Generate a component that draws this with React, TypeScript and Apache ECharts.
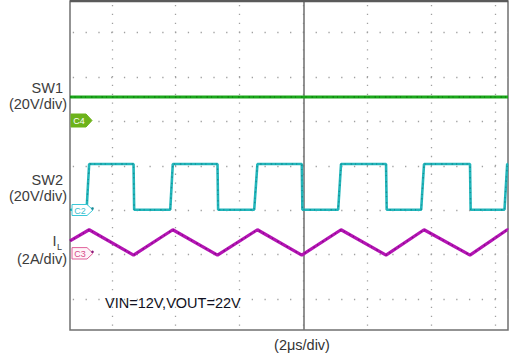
import React, { useEffect, useRef } from "react";
import * as echarts from "echarts";

// time in µs (2 µs/div), amplitude in screen divisions
const timeTicks = [0, 2, 4, 6, 8, 10, 12];
const divTicks = [0, 1, 2, 3, 4, 5, 6];

const sw1Time = [-1.31, 12.41];
const sw1Level = [4.55, 4.55];

const sw2Time = [-1.31, -0.79, -0.71, 0.68, 0.7, 1.83, 1.91, 3.31, 3.33, 4.46, 4.56, 5.95, 5.97, 7.09, 7.18, 8.59, 8.61, 9.69, 9.78, 11.22, 11.24, 12.3, 12.385, 12.41];
const sw2Level = [2.01, 2.01, 3.04, 3.04, 2.01, 2.01, 3.04, 3.04, 2.01, 2.01, 3.04, 3.04, 2.01, 2.01, 3.04, 3.04, 2.01, 2.01, 3.04, 3.04, 2.01, 2.01, 3.04, 3.04];

const ilTime = [-1.31, -0.71, 0.68, 1.91, 3.31, 4.56, 5.95, 7.18, 8.59, 9.78, 11.22, 12.385, 12.41];
const ilLevel = [1.31, 1.56, 0.99, 1.56, 0.99, 1.56, 0.99, 1.56, 0.99, 1.56, 0.99, 1.56, 1.55];

const zip = (xs: number[], ys: number[]) => xs.map((x, i) => [x, ys[i]]);

const FONT = '"Liberation Sans", Arial, sans-serif';
const LABEL = "#3c3c3c";

function txt(text: string, x: number, y: number, align: string, size = 14, fill = LABEL) {
  return {
    type: "text",
    silent: true,
    style: {
      text,
      x,
      y,
      fill,
      font: `${size}px ${FONT}`,
      lineHeight: size,
      align,
      verticalAlign: "middle",
      textAlign: align,
      textVerticalAlign: "middle",
    },
    z: 100,
  };
}

function tag(x: number, y: number, h: number, label: string, fill: string, stroke: string, textFill: string, dot?: string) {
  const els: any[] = [
    {
      type: "polygon",
      silent: true,
      shape: { points: [[x, y - h], [x + 15, y - h], [x + 21, y], [x + 15, y + h], [x, y + h]] },
      style: { fill, stroke, lineWidth: 1 },
      z: 100,
    },
    {
      type: "text",
      silent: true,
      style: {
        text: label,
        x: x + 8,
        y: y + 0.5,
        fill: textFill,
        font: `9px ${FONT}`,
        lineHeight: 9,
        align: "center",
        verticalAlign: "middle",
        textAlign: "center",
        textVerticalAlign: "middle",
      },
      z: 101,
    },
  ];
  if (dot) {
    els.push({ type: "circle", silent: true, shape: { cx: x + 20.5, cy: y - 1.5, r: 1.3 }, style: { fill: dot }, z: 101 });
  }
  return els;
}

function trace(name: string, xs: number[], ys: number[], color: string, speck: string, width: number, z: number) {
  return [
    {
      name,
      type: "line",
      data: zip(xs, ys),
      symbol: "none",
      lineStyle: { color, width },
      z,
    },
    {
      name: name + " noise",
      type: "line",
      data: zip(xs, ys),
      symbol: "none",
      lineStyle: { color: speck, width: 1.4, type: [1.5, 3, 1, 5], opacity: 0.7 },
      z: z + 0.5,
      silent: true,
    },
  ];
}

export default function App() {
  const ref = useRef<HTMLDivElement>(null);
  useEffect(() => {
    if (!ref.current) return;
    const chart = echarts.init(ref.current, null, { renderer: "svg" });
    const [sw1, sw1n] = trace("SW1", sw1Time, sw1Level, "#1aa81a", "#0b6e0b", 3.2, 5);
    const [sw2, sw2n] = trace("SW2", sw2Time, sw2Level, "#22b6bb", "#137f86", 2.6, 6);
    const [il, iln] = trace("IL", ilTime, ilLevel, "#b414b4", "#6e0a6e", 3.2, 7);
    (sw1 as any).markLine = {
      silent: true,
      symbol: ["none", "none"],
      label: { show: false },
      lineStyle: { color: "#767676", width: 1.6, type: "solid" },
      data: [{ xAxis: 6 }],
      z: 1,
    };
    chart.setOption({
      animation: false,
      backgroundColor: "#ffffff",
      grid: {
        left: 70,
        right: 2,
        top: 1,
        bottom: 31,
        show: true,
        borderColor: "#707070",
        borderWidth: 1.5,
        backgroundColor: "#ffffff",
      },
      xAxis: {
        type: "value",
        min: -1.31,
        max: 12.41,
        axisLine: { show: false },
        axisLabel: { show: false },
        axisTick: { show: false, customValues: timeTicks },
        splitLine: {
          show: true,
          lineStyle: { color: "#a0a0a0", width: 1.3, type: [1.3, 7.58], dashOffset: 4.57 },
        },
      },
      yAxis: {
        type: "value",
        min: -0.698,
        max: 6.712,
        axisLine: { show: false },
        axisLabel: { show: false },
        axisTick: { show: false, customValues: divTicks },
        splitLine: {
          show: true,
          lineStyle: { color: "#a0a0a0", width: 1.3, type: [1.3, 11.48], dashOffset: 10.07 },
        },
      },
      series: [sw1, sw1n, sw2, sw2n, il, iln],
      graphic: [
        {
          type: "line",
          silent: true,
          shape: { x1: 70, y1: 1, x2: 508, y2: 1 },
          style: { stroke: "#5a5a5a", lineWidth: 2.5 },
          z: 90,
        },
        txt("SW1", 63, 88, "right", 14.5),
        txt("(20V/div)", 67, 104, "right", 14.5),
        txt("SW2", 63, 180, "right", 14.5),
        txt("(20V/div)", 67, 196, "right", 14.5),
        txt("I", 56.5, 241, "right", 14.5),
        txt("L", 57, 246.5, "left", 9),
        txt("(2A/div)", 67, 258.5, "right", 14.5),
        txt("VIN=12V,VOUT=22V", 105, 303, "left", 14.5, "#111122"),
        txt("(2μs/div)", 302, 345, "center", 14.5, "#333333"),
        ...tag(71, 120.5, 6.5, "C4", "#6db31b", "#6db31b", "#ffffff"),
        ...tag(72, 210, 5.5, "C2", "#ffffff", "#3cc8d8", "#3cc0d0", "#1a8a96"),
        ...tag(72, 253.3, 5.7, "C3", "#fff4f8", "#e0609a", "#d84a8a", "#8a1a7a"),
      ],
    });
    return () => chart.dispose();
  }, []);
  return <div ref={ref} style={{ position: "fixed", left: 0, top: 0, width: 510, height: 361 }} />;
}
